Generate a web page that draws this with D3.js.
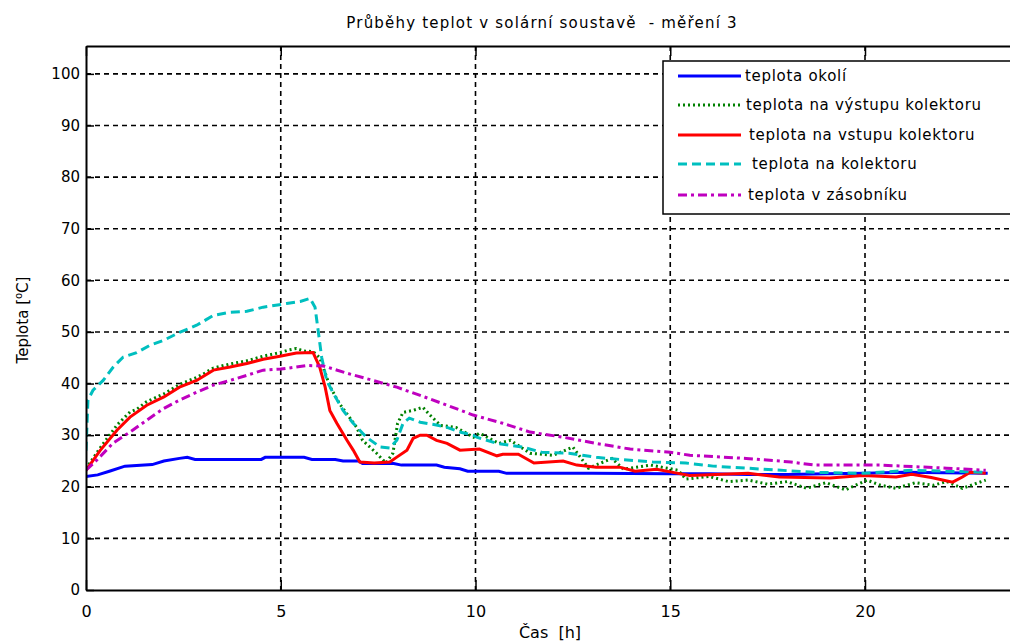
<!DOCTYPE html>
<html>
<head>
<meta charset="utf-8">
<script src="https://cdn.jsdelivr.net/npm/d3@7"></script>
<style>
  body { margin: 0; background: #fff; }
  text { font-family: "DejaVu Sans", sans-serif; fill: #000; white-space: pre; }
</style>
</head>
<body>
<div class="svg-container"></div>
<script>
// data (time in h, temperature in deg C)
var tAmb = [0,0.3,0.6,1.0,1.7,2.0,2.4,2.6,2.8,4.5,4.6,5.6,5.8,6.4,6.6,7.0,7.1,7.9,8.1,9.0,9.2,9.6,9.8,10.6,10.8,13,15,16,17,18,19,20,21,22,23.15];
var vAmb = [22.0,22.3,23.0,24.0,24.3,25.0,25.5,25.7,25.3,25.3,25.7,25.7,25.3,25.3,25.0,25.0,24.5,24.5,24.2,24.2,23.8,23.5,23.0,23.0,22.6,22.6,22.5,22.5,22.4,22.4,22.5,22.6,22.8,22.7,22.6];

var tOut = [0,0.36,0.8,1.13,1.3,1.56,2.0,2.4,2.84,3.0,3.27,3.7,4.13,4.55,4.98,5.2,5.4,5.6,5.83,6.0,6.26,6.5,6.95,7.1,7.46,7.7,7.88,8.0,8.14,8.4,8.65,8.83,9.1,9.5,9.95,10.1,10.6,10.9,11.4,12.0,12.5,12.9,13.5,13.8,14.5,15.2,15.4,16.0,16.5,17.0,17.5,18.0,18.5,19.0,19.5,20.05,20.4,20.8,21.3,21.75,22.1,22.5,22.8,23.1];
var vOut = [23.5,27.5,32,34.5,35,36.5,38,39.8,41.2,41.8,43,43.8,44.4,45.3,46,46.5,46.8,46.3,46.2,45,39.5,36.2,31.5,29,26.5,24.6,26.5,32.3,34.4,34.8,35.4,33.9,31.9,31.5,29.6,30.4,28.4,29,26.5,26.1,27.7,23.6,25.5,23.4,24.2,23.2,21.5,22.0,21.0,21.3,20.5,21.0,19.7,20.8,19.4,21.3,20.3,19.7,20.8,20.3,21.0,19.7,20.5,21.3];

var tIn = [0,0.36,0.8,1.13,1.56,2.0,2.4,2.84,3.27,3.7,4.13,4.55,4.98,5.4,5.83,6.0,6.14,6.26,6.44,6.7,6.86,7.03,7.4,7.8,7.97,8.24,8.4,8.58,8.75,9.0,9.27,9.6,10.1,10.55,10.7,11.1,11.5,12.25,12.6,13.1,13.7,14.1,14.65,15.2,15.5,17.0,17.8,19.1,19.95,20.8,21.2,21.7,22.25,22.5,22.7,23.1];
var vIn = [23.2,27,31,33.5,35.8,37.4,39.3,40.6,42.6,43.2,43.9,44.7,45.3,45.9,46,43.2,39.3,34.8,32.3,29,27.1,24.8,24.6,24.8,25.7,27.1,29.4,30,30,29,28.4,27.1,27.3,26,26.3,26.3,24.6,25,24.2,23.8,23.8,23,23.4,22.6,22.2,22.6,21.9,21.7,22.2,21.9,22.4,21.8,20.9,21.9,22.8,22.6];

var tCol = [0,0.05,0.18,0.44,0.7,0.95,1.3,1.64,2.0,2.4,2.84,3.27,3.7,4.13,4.55,5.15,5.5,5.75,5.88,5.96,6.05,6.18,6.35,6.6,6.86,7.2,7.55,7.8,7.98,8.14,8.3,8.58,8.9,9.27,9.6,9.94,10.03,10.55,11.2,11.7,12.4,13.1,13.7,14.55,15.4,16.1,17.4,18.7,19.95,21.2,23.1];
var vCol = [27,36.8,38.7,40.6,43.2,45.1,46,47.4,48.4,49.9,51.3,53.2,53.8,54,54.8,55.5,55.9,56.5,54.8,50.3,45.1,40.6,38.1,34.8,32.3,29.6,27.7,27.5,29,32.3,33.3,32.5,32.1,31.5,30.6,30,29.6,28.4,27.7,26.7,26.5,25.7,25.3,24.8,24.6,24,23.4,22.8,22.6,23.2,22.8];

var tSto = [0,0.28,0.7,1.13,1.56,2.0,2.4,2.84,3.27,3.7,4.13,4.55,5.0,5.4,5.67,6.1,6.7,7.37,7.98,8.58,9.27,9.94,10.7,11.4,12.25,13.1,13.97,15.0,15.5,16.95,18.1,18.7,20.4,22.1,23.1];
var vSto = [23.2,25.2,28.5,30.6,32.9,35.2,36.8,38.3,39.7,40.6,41.6,42.6,42.8,43.2,43.5,43.4,42,40.6,39.3,37.7,35.8,33.9,32.3,30.6,29.6,28.4,27.3,26.7,26.1,25.5,24.8,24.2,24.2,23.6,23.2];

var seriesNames = ["teplota okolí", "teplota na výstupu kolektoru", "teplota na vstupu kolektoru", "teplota na kolektoru", "teplota v zásobníku"];
var xTicks = [0, 5, 10, 15, 20];
var yTicks = [0, 10, 20, 30, 40, 50, 60, 70, 80, 90, 100];

var series = [
    {name: seriesNames[0], t: tAmb, v: vAmb, color: "#0000ff", dash: null},
    {name: seriesNames[1], t: tOut, v: vOut, color: "#008000", dash: "2,3"},
    {name: seriesNames[2], t: tIn, v: vIn, color: "#ff0000", dash: null},
    {name: seriesNames[3], t: tCol, v: vCol, color: "#00bfbf", dash: "9,5"},
    {name: seriesNames[4], t: tSto, v: vSto, color: "#bf00bf", dash: "9,4,3,4"}
];

var width = 1010;
var height = 644;
var plotLeft = 86, plotTop = 46, plotBottom = 590;

var svg = d3.select(".svg-container").append("svg")
    .attr("width", width)
    .attr("height", height);

svg.append("rect").attr("width", width).attr("height", height).attr("fill", "#fff");

var x = d3.scaleLinear().domain([0, 25]).range([plotLeft, plotLeft + 25 * 38.95]);
var y = d3.scaleLinear().domain([0, 105.4]).range([plotBottom, plotTop]);

// grid
svg.append("g").selectAll("line")
    .data(yTicks.filter(function(d) { return d > 0; }))
    .enter().append("line")
    .attr("x1", plotLeft).attr("x2", width)
    .attr("y1", function(d) { return y(d); })
    .attr("y2", function(d) { return y(d); })
    .attr("stroke", "#000")
    .attr("stroke-width", 1.6)
    .attr("stroke-dasharray", "5,4");

svg.append("g").selectAll("line")
    .data(xTicks.filter(function(d) { return d > 0; }))
    .enter().append("line")
    .attr("x1", function(d) { return x(d); })
    .attr("x2", function(d) { return x(d); })
    .attr("y1", plotTop).attr("y2", plotBottom)
    .attr("stroke", "#000")
    .attr("stroke-width", 1.6)
    .attr("stroke-dasharray", "5,4");

// lines
svg.append("clipPath").attr("id", "clip")
    .append("rect").attr("x", plotLeft).attr("y", plotTop).attr("width", width - plotLeft).attr("height", plotBottom - plotTop);

var line = d3.line()
    .x(function(d) { return x(d[0]); })
    .y(function(d) { return y(d[1]); });

series.forEach(function(s) {
    var pts = s.t.map(function(t, i) { return [t, s.v[i]]; });
    svg.append("path")
        .datum(pts)
        .attr("d", line)
        .attr("clip-path", "url(#clip)")
        .attr("fill", "none")
        .attr("stroke", s.color)
        .attr("stroke-width", 3)
        .attr("stroke-dasharray", s.dash);
});

// axes
var xAxis = svg.append("g")
    .attr("transform", "translate(0," + plotBottom + ")")
    .call(d3.axisBottom(x).tickValues(xTicks).tickSize(-10).tickSizeOuter(0).tickPadding(16));
var xTop = svg.append("g")
    .attr("transform", "translate(0," + plotTop + ")")
    .call(d3.axisTop(x).tickValues(xTicks).tickSize(-10).tickSizeOuter(0).tickFormat(""));
var yAxis = svg.append("g")
    .attr("transform", "translate(" + plotLeft + ",0)")
    .call(d3.axisLeft(y).tickValues(yTicks).tickSize(-8).tickSizeOuter(0).tickPadding(6));

[xAxis, xTop, yAxis].forEach(function(g) {
    g.select(".domain").attr("stroke", "#000").attr("stroke-width", 2);
    g.selectAll(".tick line").attr("stroke", "#000").attr("stroke-width", 1.5);
    g.selectAll(".tick text").attr("font-family", "DejaVu Sans").attr("fill", "#000");
});
xAxis.selectAll(".tick text").attr("font-size", 16);
yAxis.selectAll(".tick text").attr("font-size", 15);

// legend
var legend = svg.append("g");
legend.append("rect")
    .attr("x", 663).attr("y", 61)
    .attr("width", 360).attr("height", 153)
    .attr("fill", "#fff")
    .attr("stroke", "#000")
    .attr("stroke-width", 1.5);

var rowY = [76, 105, 135, 164, 195];
var textX = [745, 746, 749, 752, 748];
series.forEach(function(s, i) {
    legend.append("line")
        .attr("x1", 678).attr("x2", 741)
        .attr("y1", rowY[i]).attr("y2", rowY[i])
        .attr("stroke", s.color)
        .attr("stroke-width", 3)
        .attr("stroke-dasharray", s.dash);
    legend.append("text")
        .attr("x", textX[i]).attr("y", rowY[i] + 5)
        .attr("font-size", 15)
        .attr("letter-spacing", 0.7)
        .text(s.name);
});

// labels
svg.append("text")
    .attr("x", 542).attr("y", 28)
    .style("text-anchor", "middle")
    .attr("font-size", 15)
    .attr("letter-spacing", 1.2)
    .text("Průběhy teplot v solární soustavě  - měření 3");

svg.append("text")
    .attr("x", 550).attr("y", 638)
    .style("text-anchor", "middle")
    .attr("font-size", 16)
    .text("Čas  [h]");

var yl = svg.append("text")
    .attr("transform", "translate(28,320) rotate(-90)")
    .style("text-anchor", "middle")
    .attr("font-size", 15);
yl.append("tspan").text("Teplota [");
yl.append("tspan").attr("dy", -6).attr("font-size", 10).text("o");
yl.append("tspan").attr("dy", 6).text("C]");
</script>
</body>
</html>
